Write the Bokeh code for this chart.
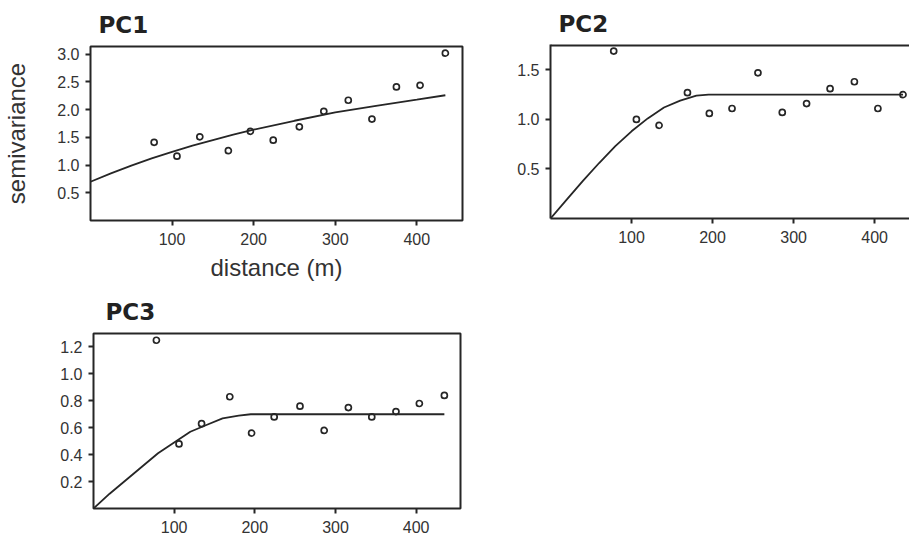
from bokeh.plotting import figure
from bokeh.layouts import row, column
from bokeh.models import Range1d, FixedTicker, NumeralTickFormatter, Span
from bokeh.embed import file_html
from bokeh.resources import INLINE

# ---- data ----
lag = [78, 106, 134, 169, 196, 224, 256, 286, 316, 345, 375, 404, 435]

pc1_semivar = [1.41, 1.16, 1.51, 1.26, 1.61, 1.45, 1.69, 1.97, 2.17, 1.83, 2.41, 2.44, 3.02]
pc2_semivar = [1.69, 1.00, 0.94, 1.27, 1.06, 1.11, 1.47, 1.07, 1.16, 1.31, 1.38, 1.11, 1.25]
pc3_semivar = [1.25, 0.48, 0.63, 0.83, 0.56, 0.68, 0.76, 0.58, 0.75, 0.68, 0.72, 0.78, 0.84]

pc1_model_x = [0, 25, 50, 75, 100, 125, 150, 175, 200, 250, 300, 350, 400, 435]
pc1_model_y = [0.70, 0.85, 0.99, 1.12, 1.24, 1.35, 1.45, 1.55, 1.64, 1.80, 1.95, 2.07, 2.18, 2.26]

pc2_model_x = [0, 20, 40, 60, 80, 100, 120, 140, 160, 180, 195, 435]
pc2_model_y = [0.0, 0.19, 0.38, 0.56, 0.73, 0.88, 1.01, 1.12, 1.19, 1.24, 1.25, 1.25]

pc3_model_x = [0, 20, 40, 60, 80, 100, 120, 140, 160, 180, 195, 435]
pc3_model_y = [0.0, 0.11, 0.21, 0.31, 0.41, 0.49, 0.57, 0.62, 0.67, 0.69, 0.70, 0.70]

x_ticks = [100, 200, 300, 400]
pc1_y_ticks = [0.5, 1.0, 1.5, 2.0, 2.5, 3.0]
pc2_y_ticks = [0.5, 1.0, 1.5]
pc3_y_ticks = [0.2, 0.4, 0.6, 0.8, 1.0, 1.2]

INK = "#262626"
TXT = "#333333"
FONT = "Liberation Sans"


def make_panel(title, xr, yr, fw, fh, bl, bt, br, bb, title_offset, title_standoff, y_ticks, fmt):
    p = figure(frame_width=fw, frame_height=fh, x_range=Range1d(*xr), y_range=Range1d(*yr),
               output_backend="svg", toolbar_location=None, tools="",
               min_border_left=bl, min_border_top=bt, min_border_right=br, min_border_bottom=bb)
    p.title.text = title
    p.title.text_font = "DejaVu Sans"
    p.title.text_font_style = "bold"
    p.title.text_font_size = "23px"
    p.title.text_line_height = 0.8
    p.title.text_color = "#222222"
    p.title.align = "left"
    p.title.offset = title_offset
    p.title.standoff = title_standoff
    p.xgrid.visible = False
    p.ygrid.visible = False
    p.background_fill_color = "white"
    p.border_fill_color = "white"
    p.outline_line_color = INK
    p.outline_line_width = 2
    for ax in (p.xaxis[0], p.yaxis[0]):
        ax.axis_line_color = None
        ax.major_tick_in = 0
        ax.major_tick_out = 5
        ax.major_tick_line_color = INK
        ax.major_tick_line_width = 2
        ax.minor_tick_line_color = None
        ax.major_label_text_font = FONT
        ax.major_label_text_font_size = "16px"
        ax.major_label_text_color = TXT
        ax.axis_label_text_font = FONT
        ax.axis_label_text_font_size = "24px"
        ax.axis_label_text_font_style = "normal"
        ax.axis_label_text_color = TXT
    p.xaxis.ticker = FixedTicker(ticks=x_ticks)
    p.yaxis.ticker = FixedTicker(ticks=y_ticks)
    p.yaxis.formatter = NumeralTickFormatter(format=fmt)
    p.xaxis.major_label_standoff = 7
    p.yaxis.major_label_standoff = 6
    return p


p1 = make_panel("PC1", (0, 456), (0, 3.14), 372, 174, 89, 46, 10, 67, 8, 17, pc1_y_ticks, "0.0")
p1.yaxis.axis_label = "semivariance"
p1.yaxis.axis_label_standoff = 24
p1.xaxis.axis_label = "distance (m)"
p1.xaxis.axis_label_standoff = 6
p1.line(pc1_model_x, pc1_model_y, line_color=INK, line_width=1.8)
p1.scatter(lag, pc1_semivar, marker="circle", size=6, fill_color=None, line_color=INK, line_width=1.7)

pc2_yr = (0, 1.756)
p2 = make_panel("PC2", (0, 443), pc2_yr, 359, 174, 78, 42, 0, 40, 8, 16, pc2_y_ticks, "0.0")
# the right edge of this panel is cut off in the reference: draw only left, bottom and top edges
p2.outline_line_color = None
p2.xaxis.axis_line_color = INK
p2.xaxis.axis_line_width = 2
p2.yaxis.axis_line_color = INK
p2.yaxis.axis_line_width = 2
p2.add_layout(Span(location=pc2_yr[1], dimension="width", line_color=INK, line_width=4))
p2.line(pc2_model_x, pc2_model_y, line_color=INK, line_width=1.8)
p2.scatter(lag, pc2_semivar, marker="circle", size=6, fill_color=None, line_color=INK, line_width=1.7)

p3 = make_panel("PC3", (0, 455), (0, 1.30), 367, 175, 93, 46, 10, 28, 12, 18, pc3_y_ticks, "0.0")
p3.line(pc3_model_x, pc3_model_y, line_color=INK, line_width=1.8)
p3.scatter(lag, pc3_semivar, marker="circle", size=6, fill_color=None, line_color=INK, line_width=1.7)

layout = column(row(p1, column(p2)), p3)
open("out.html", "w").write(file_html(layout, INLINE))
